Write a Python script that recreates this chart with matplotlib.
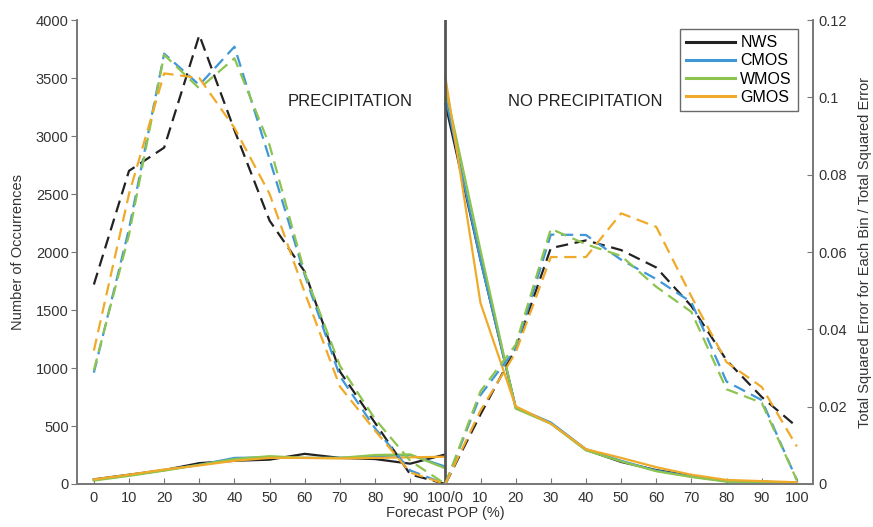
import matplotlib
matplotlib.use("Agg")
import matplotlib.pyplot as plt
import numpy as np

plt.rcParams['font.family'] = ['Liberation Sans', 'DejaVu Sans']

# ---- data ----
tick_labels = ['0', '10', '20', '30', '40', '50', '60', '70', '80', '90', '100/0',
               '10', '20', '30', '40', '50', '60', '70', '80', '90', '100']
pos_precip = list(range(0, 11))      # POP 0..100 for precipitation events
pos_noprecip = list(range(10, 21))   # POP 0..100 for no-precipitation events
models = ['NWS', 'CMOS', 'WMOS', 'GMOS']
colors = {'NWS': '#222222', 'CMOS': '#3f97d8', 'WMOS': '#8dc44e', 'GMOS': '#f0aa2a'}

# number of occurrences (solid, left axis)
occ_precip = {
    'NWS':  [40, 80, 120, 180, 200, 210, 260, 225, 215, 175, 255],
    'CMOS': [35, 75, 120, 165, 225, 230, 225, 225, 240, 250, 150],
    'WMOS': [30, 70, 115, 165, 215, 240, 225, 225, 250, 255, 135],
    'GMOS': [40, 80, 125, 160, 200, 225, 225, 220, 225, 230, 235],
}
occ_noprecip = {
    'NWS':  [3280, 1930, 660, 525, 295, 190, 120, 70, 25, 20, 10],
    'CMOS': [3340, 1930, 660, 530, 300, 200, 115, 65, 25, 15, 5],
    'WMOS': [3420, 2015, 650, 520, 290, 195, 110, 60, 20, 15, 5],
    'GMOS': [3510, 1560, 670, 520, 300, 225, 145, 80, 35, 25, 15],
}
# fraction of total squared error (dashed, right axis)
err_precip = {
    'NWS':  [0.0516, 0.081, 0.087, 0.1161, 0.0915, 0.0681, 0.0549, 0.0291, 0.0158, 0.0025, 0.0],
    'CMOS': [0.0288, 0.066, 0.1113, 0.1032, 0.1131, 0.084, 0.054, 0.0279, 0.0144, 0.0035, 0.0],
    'WMOS': [0.0294, 0.0645, 0.111, 0.1023, 0.1101, 0.0876, 0.0546, 0.0306, 0.0168, 0.006, 0.0],
    'GMOS': [0.0345, 0.075, 0.1062, 0.105, 0.0921, 0.075, 0.0495, 0.0252, 0.0138, 0.003, 0.0],
}
err_noprecip = {
    'NWS':  [0.0, 0.018, 0.035, 0.061, 0.063, 0.0605, 0.056, 0.046, 0.032, 0.0225, 0.0148],
    'CMOS': [0.0, 0.023, 0.035, 0.0645, 0.0644, 0.058, 0.053, 0.047, 0.0265, 0.0217, 0.001],
    'WMOS': [0.0, 0.024, 0.036, 0.066, 0.062, 0.059, 0.051, 0.0445, 0.0245, 0.021, 0.001],
    'GMOS': [0.0, 0.019, 0.034, 0.0587, 0.0587, 0.070, 0.0665, 0.0485, 0.0315, 0.0251, 0.0097],
}

# ---- figure ----
fig = plt.figure(figsize=(8.73, 5.27), dpi=100)
ax = fig.add_axes([0.0882, 0.0816, 0.9313 - 0.0882, 0.962 - 0.0816])
ax2 = ax.twinx()

lw = 1.6
handles = []
for m in models:
    h, = ax.plot(pos_precip, occ_precip[m], color=colors[m], lw=lw, label=m)
    ax.plot(pos_noprecip, occ_noprecip[m], color=colors[m], lw=lw)
    handles.append(h)
    ax2.plot(pos_precip, err_precip[m], color=colors[m], lw=lw, ls=(0, (5.5, 3)))
    ax2.plot(pos_noprecip, err_noprecip[m], color=colors[m], lw=lw, ls=(0, (5.5, 3)))

ax.set_xlim(-0.48, 20.46)
ax.set_ylim(0, 4000)
ax2.set_ylim(0, 0.12)

ax.axvline(10, color='#555555', lw=2, zorder=5)

spine_c = '#777777'
for a in (ax, ax2):
    a.spines['top'].set_visible(False)
    for s in ('left', 'right', 'bottom'):
        a.spines[s].set_color(spine_c)
        a.spines[s].set_linewidth(1.2)

ax.set_xticks(range(21))
ax.set_xticklabels(tick_labels)
ax.set_yticks(np.arange(0, 4001, 500))
ax.set_yticklabels([str(v) for v in range(0, 4001, 500)])
ax2.set_yticks([0, 0.02, 0.04, 0.06, 0.08, 0.1, 0.12])
ax2.set_yticklabels(['0', '0.02', '0.04', '0.06', '0.08', '0.1', '0.12'])

ax.tick_params(axis='x', direction='in', length=4, color=spine_c, labelsize=10.5,
               labelcolor='#333333', pad=5)
ax.tick_params(axis='y', direction='out', length=4, color=spine_c, labelsize=10.5,
               labelcolor='#333333', pad=2)
ax2.tick_params(axis='y', direction='in', length=4, color=spine_c, labelsize=10.5,
                labelcolor='#333333', pad=4)

ax.set_xlabel('Forecast POP (%)', fontsize=10.5, color='#333333', labelpad=1)
ax.set_ylabel('Number of Occurrences', fontsize=10.5, color='#333333', labelpad=8)
ax2.set_ylabel('Total Squared Error for Each Bin / Total Squared Error', fontsize=10.5,
               color='#333333', labelpad=8)

ax.text(7.3, 3300, 'PRECIPITATION', fontsize=12, color='#222222', ha='center', va='center')
ax.text(13.98, 3300, 'NO PRECIPITATION', fontsize=12, color='#222222', ha='center', va='center')

leg = ax2.legend(handles=handles, labels=models, loc='upper right',
                 bbox_to_anchor=(0.98, 0.981), fontsize=11.5, frameon=True,
                 fancybox=False, edgecolor='#444444', handlelength=3.1,
                 handletextpad=0.3, borderpad=0.4, labelspacing=0.2,
                 borderaxespad=0)
leg.get_frame().set_linewidth(1.0)
for lh in leg.get_lines():
    lh.set_linewidth(2.2)

fig.savefig('out.png', dpi=100, facecolor='white')
